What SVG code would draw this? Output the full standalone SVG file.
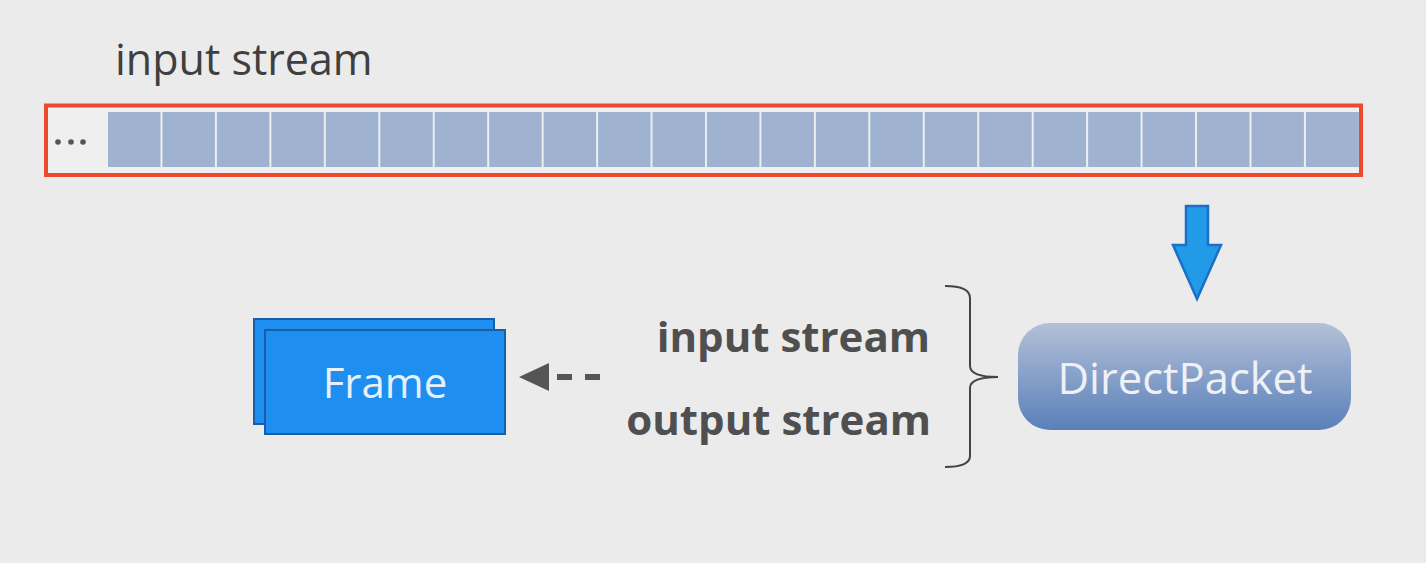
<svg xmlns="http://www.w3.org/2000/svg" width="1426" height="563" viewBox="0 0 1426 563">
<defs>
<style>
.cell{fill:#9fb3d1}
.lbl{font-family:"Open Sans","Noto Sans",sans-serif}
.bold{font-family:"Open Sans","Noto Sans",sans-serif;font-weight:bold;fill:#4f4f4f;font-size:42px;text-anchor:end}
.box{fill:#1e8ff0;stroke:#1a5ea8;stroke-width:2}
</style>
<linearGradient id="dpGrad" x1="0" y1="0" x2="0" y2="1">
<stop offset="0" stop-color="#b3c0d8"/>
<stop offset="1" stop-color="#5a80b9"/>
</linearGradient>
</defs>
<rect width="1426" height="563" fill="#ebebeb"/>
<text class="lbl" x="115" y="75" font-size="43" fill="#3f3f3f">input stream</text>
<g id="stream">
<rect x="46" y="105.5" width="1315" height="69.5" fill="#efefef" stroke="#ea4a2e" stroke-width="4"/>
<g fill="#555"><circle cx="58" cy="142" r="2.8"/><circle cx="71" cy="142" r="2.8"/><circle cx="83" cy="142" r="2.8"/></g>
<g id="cells">
<rect class="cell" x="108" y="112" width="52.5" height="55"/>
<rect class="cell" x="162.45" y="112" width="52.5" height="55"/>
<rect class="cell" x="216.9" y="112" width="52.5" height="55"/>
<rect class="cell" x="271.35" y="112" width="52.5" height="55"/>
<rect class="cell" x="325.8" y="112" width="52.5" height="55"/>
<rect class="cell" x="380.25" y="112" width="52.5" height="55"/>
<rect class="cell" x="434.7" y="112" width="52.5" height="55"/>
<rect class="cell" x="489.15" y="112" width="52.5" height="55"/>
<rect class="cell" x="543.6" y="112" width="52.5" height="55"/>
<rect class="cell" x="598.05" y="112" width="52.5" height="55"/>
<rect class="cell" x="652.5" y="112" width="52.5" height="55"/>
<rect class="cell" x="706.95" y="112" width="52.5" height="55"/>
<rect class="cell" x="761.4" y="112" width="52.5" height="55"/>
<rect class="cell" x="815.85" y="112" width="52.5" height="55"/>
<rect class="cell" x="870.3" y="112" width="52.5" height="55"/>
<rect class="cell" x="924.75" y="112" width="52.5" height="55"/>
<rect class="cell" x="979.2" y="112" width="52.5" height="55"/>
<rect class="cell" x="1033.65" y="112" width="52.5" height="55"/>
<rect class="cell" x="1088.1" y="112" width="52.5" height="55"/>
<rect class="cell" x="1142.55" y="112" width="52.5" height="55"/>
<rect class="cell" x="1197" y="112" width="52.5" height="55"/>
<rect class="cell" x="1251.45" y="112" width="52.5" height="55"/>
<rect class="cell" x="1305.9" y="112" width="53" height="55"/>
</g>
</g>
<g id="connectors">
<path d="M1186,206 H1208 V245 H1221 L1197,299 L1173,245 H1186 Z" fill="#219be8" stroke="#1c6fc6" stroke-width="2.5" stroke-linejoin="miter"/>
<path d="M519,377 L549,363 V391 Z" fill="#555"/>
<path d="M557,377 H572 M585,377 H600" stroke="#555" stroke-width="6"/>
<path d="M945,286 Q970,286 970,298 V366 Q970,377 998,377 Q970,377 970,388 V456 Q970,467 945,467" fill="none" stroke="#444" stroke-width="2"/>
</g>
<g id="directpacket">
<rect x="1018" y="323" width="333" height="107" rx="32" fill="url(#dpGrad)"/>
<text class="lbl" x="1185" y="394" font-size="43.5" fill="#eef1f6" text-anchor="middle">DirectPacket</text>
</g>
<g id="frame">
<rect class="box" x="254" y="319" width="240" height="105"/>
<rect class="box" x="265" y="330" width="240" height="104"/>
<text class="lbl" x="385" y="398" font-size="42" fill="#e8f1fb" text-anchor="middle">Frame</text>
</g>
<g id="labels">
<text class="bold" x="930" y="352">input stream</text>
<text class="bold" x="931" y="435">output stream</text>
</g>
</svg>
